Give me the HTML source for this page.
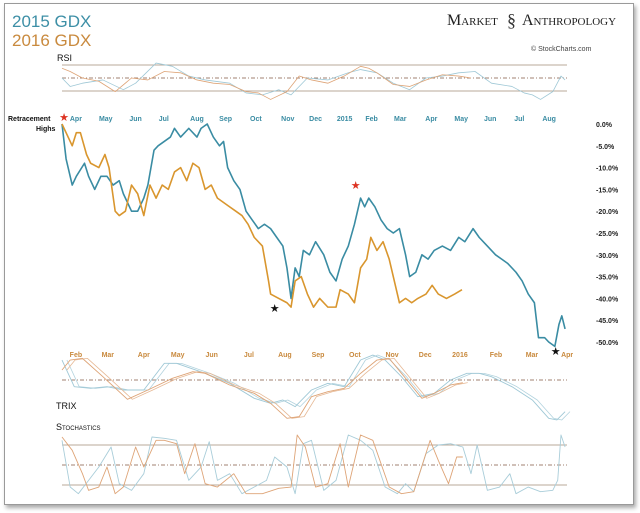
<!DOCTYPE html>
<html><head><meta charset="utf-8"><style>
body{margin:0;background:#fff;width:640px;height:513px;overflow:hidden;font-family:"Liberation Sans",sans-serif}
#card{position:absolute;left:4px;top:3px;width:628px;height:500px;border:1px solid #9a9a9a;box-shadow:2px 3px 4px #aaa;background:#fff}
</style></head><body>
<div id="card"></div>
<svg id="chart" width="640" height="513" style="position:absolute;left:0;top:0">
<text x="12" y="27" font-size="17" fill="#3d8fa6">2015 GDX</text>
<text x="12" y="46" font-size="17" fill="#c98a3e">2016 GDX</text>
<text x="447" y="25" font-family="Liberation Serif" font-size="16" fill="#222" style="font-variant:small-caps">Market</text>
<text x="507" y="26" font-family="Liberation Serif" font-size="18" fill="#333">§</text>
<text x="522" y="25" font-family="Liberation Serif" font-size="16" fill="#222" style="font-variant:small-caps">Anthropology</text>
<text x="531" y="51" font-size="7" fill="#444">© StockCharts.com</text>
<text x="57" y="61" font-size="9" fill="#111">RSI</text>
<text x="8" y="121" font-size="7" font-weight="bold" fill="#111">Retracement</text>
<text x="36" y="131" font-size="7" font-weight="bold" fill="#111">Highs</text>
<text x="56" y="409" font-size="9" fill="#111">TRIX</text>
<text x="56" y="430" font-size="9" fill="#111" style="font-variant:small-caps">Stochastics</text>
<g id="g"></g>
</svg>
<script>
// trading-day index (time axis) and values
const days2015=[0,10,25,35,55,65,80,95,110,125,140,150,170,185,200,210,225,235,250,265,275,290,310,330,340,355,370,385,395,405,420,435,450,465,480,495,510,525,540,550,560,570,580,590,605,620,640,655,670,685,700,715,730,740,750,765,780,795,810,825,840,850,865,880,895,910,930,950,970,985,1005,1020,1040,1060,1075,1090,1110,1125,1140,1155,1165,1180,1190,1205,1215,1222,1230];
const gdx2015=[0,-8,-14,-12,-9,-12,-15,-12,-12,-14,-13,-16,-20,-20,-17,-14,-6,-5,-4,-3,-1,-3,-1,-3,-1,0,-3,-5,-4,-10,-13,-15,-20,-22,-24,-23,-24,-26,-28,-33,-40,-33,-35,-29,-30,-27,-30,-34,-36,-31,-28,-23,-17,-19,-17,-19,-22,-24,-25,-24,-30,-35,-34,-30,-31,-29,-28,-29,-26,-27,-24,-26,-28,-30,-31,-32,-34,-36,-39,-41,-49,-49,-50,-51,-46,-44,-47];
const days2016=[0,15,25,35,45,60,70,90,105,115,130,140,155,170,185,200,215,230,245,260,275,290,305,320,335,350,365,380,395,410,425,440,455,470,490,505,510,530,550,560,570,585,600,615,630,650,670,680,700,715,730,745,755,770,785,800,815,825,840,855,870,890,905,920,940,960,978];
const gdx2016=[0,-3,-5,-2,-2,-7,-9,-10,-7,-10,-20,-21,-20,-14,-16,-21,-14,-17,-14,-15,-11,-10,-13,-9,-10,-15,-14,-17,-18,-19,-20,-21,-23,-26,-28,-36,-39,-40,-41,-42,-36,-35,-39,-42,-40,-42,-42,-38,-39,-41,-33,-31,-26,-29,-27,-31,-37,-41,-40,-41,-40,-39,-37,-39,-40,-39,-38];
const yTicks=[0,-5,-10,-15,-20,-25,-30,-35,-40,-45,-50];
const topMonths=["Apr","May","Jun","Jul","Aug","Sep","Oct","Nov","Dec","2015","Feb","Mar","Apr","May","Jun","Jul","Aug"];
const topMonthDays=[34,107,180,249,330,400,474,552,620,691,757,827,903,976,1047,1118,1191];
const botMonths=["Feb","Mar","Apr","May","Jun","Jul","Aug","Sep","Oct","Nov","Dec","2016","Feb","Mar","Apr"];
const botMonthDays=[34,112,200,283,366,457,545,626,716,807,888,973,1061,1149,1235];
// indicators
const rsiDays2015=[0,20,50,100,150,180,230,270,310,350,410,450,490,530,560,600,650,700,730,770,810,850,890,930,970,1010,1050,1100,1130,1150,1170,1200,1220,1230];
const rsi2015=[50,37,42,47,32,42,73,68,53,47,42,27,24,32,24,50,47,58,63,58,42,32,50,53,58,60,42,37,27,24,17,29,53,47];
const rsiDays2016=[0,20,50,90,130,170,210,250,290,330,370,410,450,480,510,550,580,610,650,690,730,750,770,810,850,890,930,970,1000];
const rsi2016=[65,60,50,45,29,50,47,60,58,47,42,40,29,27,17,29,53,47,42,53,68,65,58,40,37,47,55,53,50];
const trixDays2015=[0,30,70,110,150,200,250,280,350,410,470,510,540,570,610,650,690,730,760,790,830,870,910,950,990,1020,1050,1100,1150,1190,1210,1230];
const trix2015=[6,-2,-2.5,-2,-3,-3,5,5,2,-1,-5.5,-7,-6,-8,-3,-1,-2,6,7.5,6,1,-5,-4,0,2,2,1,-2,-6,-11.5,-12,-9.5];
const trixDays2016=[0,20,50,100,160,210,270,320,350,410,470,510,550,580,610,650,690,730,770,800,830,880,910,950,980];
const trix2016=[3,6,6.5,1,-5.8,-3,0.5,2.5,2,-1.5,-4,-7,-11.5,-11,-5,-3.5,-2.5,2,6,6.5,2,-5.5,-4,-1.5,-0.8];
const stDays2015=[0,20,40,65,90,120,140,170,200,220,250,280,310,340,360,380,410,440,470,500,520,550,570,590,610,640,670,700,730,760,790,820,840,860,890,920,950,980,1000,1015,1040,1070,1095,1110,1140,1170,1200,1212,1220,1230];
const st2015=[87,17,7,27,47,77,22,12,37,92,90,87,27,47,85,27,37,7,17,27,62,47,7,82,87,12,27,95,87,72,17,7,22,10,67,80,82,77,37,80,12,17,37,7,17,10,12,27,95,77];
const stDays2016=[0,25,50,65,90,110,130,150,180,200,230,250,280,300,325,350,380,420,450,490,530,560,575,595,620,650,680,700,730,760,800,830,860,900,920,945,965,980];
const st2016=[92,72,37,12,17,47,7,17,77,47,87,87,82,37,82,22,17,37,7,7,15,17,95,77,17,22,82,17,95,87,17,7,10,87,57,22,62,62];

const NS="http://www.w3.org/2000/svg";
const g=document.getElementById('g');
const X0=62,XS=0.409;
const x=d=>X0+d*XS;
const yMain=v=>124-v*4.36;
const yRsi=v=>78-(v-50)*0.65;
const yTrix=v=>380-v*3.33;
const yStoch=v=>445+(80-v)*0.667;
function el(t,a){const e=document.createElementNS(NS,t);for(const k in a)e.setAttribute(k,a[k]);g.appendChild(e);return e;}
function line(days,vals,yf,color,w,name,shift){
  const p=el('polyline',{points:days.map((d,i)=>x(d+(shift||0))+','+yf(vals[i])).join(' '),fill:'none',stroke:color,'stroke-width':w,'stroke-linejoin':'round'});
  
  
}
function hline(y,dash,color,name,x1,x2){
  const l=el('line',{x1:x1||62,x2:x2||567,y1:y,y2:y,stroke:color,'stroke-width':1,'stroke-dasharray':dash||''});
  
  
}
// RSI
hline(yRsi(70),'','#b8a89a','rsi-70-line');hline(yRsi(50),'4,2,1,2','#a08070','rsi-50-line');hline(yRsi(30),'','#b8a89a','rsi-30-line');
line(rsiDays2015,rsi2015,yRsi,'#9fc8d6',0.8,'rsi-2015-line');
line(rsiDays2016,rsi2016,yRsi,'#dea477',0.8,'rsi-2016-line');
// main
line(days2015,gdx2015,yMain,'#3a8ca3',1.6,'gdx-2015-line');
line(days2016,gdx2016,yMain,'#d9962e',1.6,'gdx-2016-line');
yTicks.forEach(v=>{const t=el('text',{x:596,y:yMain(v)+3,'font-size':7,'font-weight':'bold','fill':'#222'});t.textContent=v.toFixed(1)+'%';

});
topMonths.forEach((m,i)=>{const t=el('text',{x:x(topMonthDays[i]),y:121,'font-size':7,'font-weight':'bold',fill:'#3a8ca3','text-anchor':'middle'});t.textContent=m;

});
botMonths.forEach((m,i)=>{const t=el('text',{x:x(botMonthDays[i]),y:357,'font-size':7,'font-weight':'bold',fill:'#c98a3e','text-anchor':'middle'});t.textContent=m;

});
[[x(0)+2,121,'#d32','start-star'],[x(718),189,'#d32','peak-star'],[x(520),312,'#111','low-star-2016'],[x(1207),355,'#111','low-star-2015']].forEach(s=>{const t=el('text',{x:s[0],y:s[1],'font-size':11,fill:s[2],'text-anchor':'middle'});t.textContent='★';

});
// TRIX
hline(380,'4,2,1,2','#a08070','trix-zero-line');
line(trixDays2015,trix2015,yTrix,'#b3d3de',0.8,'trix-2015-signal',12);
line(trixDays2015,trix2015,yTrix,'#9fc8d6',0.9,'trix-2015-line');
line(trixDays2016,trix2016,yTrix,'#e6b894',0.8,'trix-2016-signal',12);
line(trixDays2016,trix2016,yTrix,'#dea477',0.9,'trix-2016-line');
// Stoch
hline(yStoch(80),'','#b8a89a','stoch-80-line');hline(yStoch(50),'4,2,1,2','#a08070','stoch-50-line');hline(yStoch(20),'','#b8a89a','stoch-20-line');
line(stDays2015,st2015,yStoch,'#a9cdd9',0.9,'stoch-2015-line');
line(stDays2016,st2016,yStoch,'#dea477',0.9,'stoch-2016-line');
</script>
</body></html>
